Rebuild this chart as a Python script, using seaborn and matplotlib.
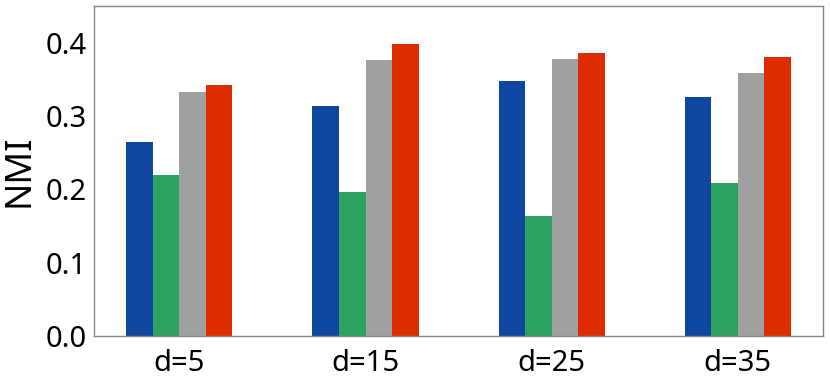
import matplotlib
matplotlib.use("Agg")
import matplotlib.pyplot as plt
import pandas as pd
import seaborn as sns

# valores
dims = ["d=5", "d=15", "d=25", "d=35"]
metodos = ["m1", "m2", "m3", "m4"]
nmi_m1 = [0.264, 0.313, 0.347, 0.326]
nmi_m2 = [0.219, 0.196, 0.163, 0.209]
nmi_m3 = [0.333, 0.376, 0.377, 0.359]
nmi_m4 = [0.342, 0.398, 0.386, 0.380]
cores = ["#0f47a0", "#2ca360", "#a0a0a0", "#dd2c00"]

df = pd.DataFrame({
    "d": dims * 4,
    "metodo": sum([[m] * 4 for m in metodos], []),
    "NMI": nmi_m1 + nmi_m2 + nmi_m3 + nmi_m4,
})

sns.set_style("white")
plt.rcParams["font.family"] = ["Noto Sans", "DejaVu Sans"]

fig = plt.figure(figsize=(8.3, 3.89), dpi=100)
ax = fig.add_axes([0.113, 0.136, 0.879, 0.849])
sns.barplot(data=df, x="d", y="NMI", hue="metodo", palette=cores,
            saturation=1, width=0.57, gap=0, linewidth=0,
            legend=False, ax=ax)

ax.set_ylim(0, 0.45)
ax.set_xlim(-0.46, 3.46)
ax.set_yticks([0.0, 0.1, 0.2, 0.3, 0.4])
ax.set_xlabel("")
ax.set_ylabel("NMI", fontsize=26, color="black", labelpad=6)
ax.tick_params(axis="y", labelsize=21, length=2, width=0.8, color="#888888",
               pad=3, labelcolor="black")
ax.tick_params(axis="x", labelsize=21, length=0, pad=9, labelcolor="black")
for s in ax.spines.values():
    s.set_color("#888888")
    s.set_linewidth(1)

fig.savefig("out.png", dpi=100)
